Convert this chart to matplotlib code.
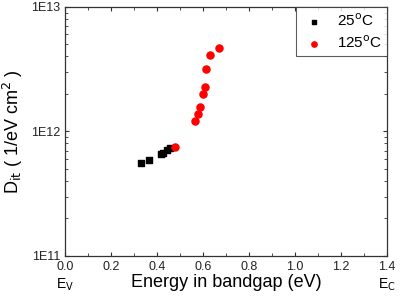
import numpy as np
import matplotlib.pyplot as plt
from matplotlib.ticker import FixedLocator, MultipleLocator, LogLocator, NullFormatter

plt.rcParams['font.family'] = ['Liberation Sans', 'DejaVu Sans']

# 25 C data
e_25 = [0.330, 0.367, 0.416, 0.427, 0.445, 0.457]
dit_25 = [5.6e11, 5.9e11, 6.56e11, 6.76e11, 7.1e11, 7.3e11]

# 125 C data
e_125 = [0.478, 0.567, 0.577, 0.588, 0.599, 0.609, 0.614, 0.632, 0.670]
dit_125 = [7.5e11, 1.22e12, 1.39e12, 1.58e12, 1.99e12, 2.26e12, 3.16e12, 4.14e12, 4.71e12]

yticks = [1e11, 1e12, 1e13]
ytick_labels = ['1E11', '1E12', '1E13']

fig = plt.figure(figsize=(4.01, 2.98), dpi=100)
ax = fig.add_axes([0.162, 0.141, 0.803, 0.836])

ax.scatter(e_25, dit_25, marker='s', s=22, color='black', label='25$^\\mathrm{o}$C', zorder=3)
ax.scatter(e_125, dit_125, marker='o', s=26, color='red', label='125$^\\mathrm{o}$C', zorder=3)

ax.set_yscale('log')
ax.set_xlim(0, 1.4)
ax.set_ylim(1e11, 1e13)
ax.yaxis.set_major_locator(FixedLocator(yticks))
ax.set_yticklabels(ytick_labels)
ax.yaxis.set_minor_locator(LogLocator(base=10, subs=np.arange(2, 10)))
ax.yaxis.set_minor_formatter(NullFormatter())
ax.xaxis.set_major_locator(MultipleLocator(0.2))
ax.xaxis.set_minor_locator(MultipleLocator(0.1))
ax.xaxis.set_major_formatter(plt.FuncFormatter(lambda v, p: f'{v:.1f}'))

ax.tick_params(which='both', direction='in', top=True, right=True, labelsize=9, colors='#333333', labelcolor='#222222')
ax.tick_params(which='major', length=3)
ax.tick_params(which='minor', length=2)
for s in ax.spines.values():
    s.set_color('#333333')
    s.set_linewidth(0.9)

ax.set_xlabel('Energy in bandgap (eV)', fontsize=13, labelpad=1)
ax.set_ylabel('D$_\\mathrm{it}$ ( 1/eV cm$^\\mathrm{2}$ )', fontsize=13, labelpad=4)

ax.text(0.0, -0.115, 'E$_\\mathrm{V}$', transform=ax.transAxes, ha='center', va='center', fontsize=10)
ax.text(1.0, -0.115, 'E$_\\mathrm{C}$', transform=ax.transAxes, ha='center', va='center', fontsize=10)

leg = ax.legend(loc='upper right', fontsize=11, frameon=True, fancybox=False,
                edgecolor='#333333', handletextpad=0.7, borderaxespad=0.0,
                labelspacing=0.35, handlelength=1.6, markerscale=0.75,
                borderpad=0.35)
leg.get_frame().set_linewidth(0.8)

plt.savefig('out.png', dpi=100)
